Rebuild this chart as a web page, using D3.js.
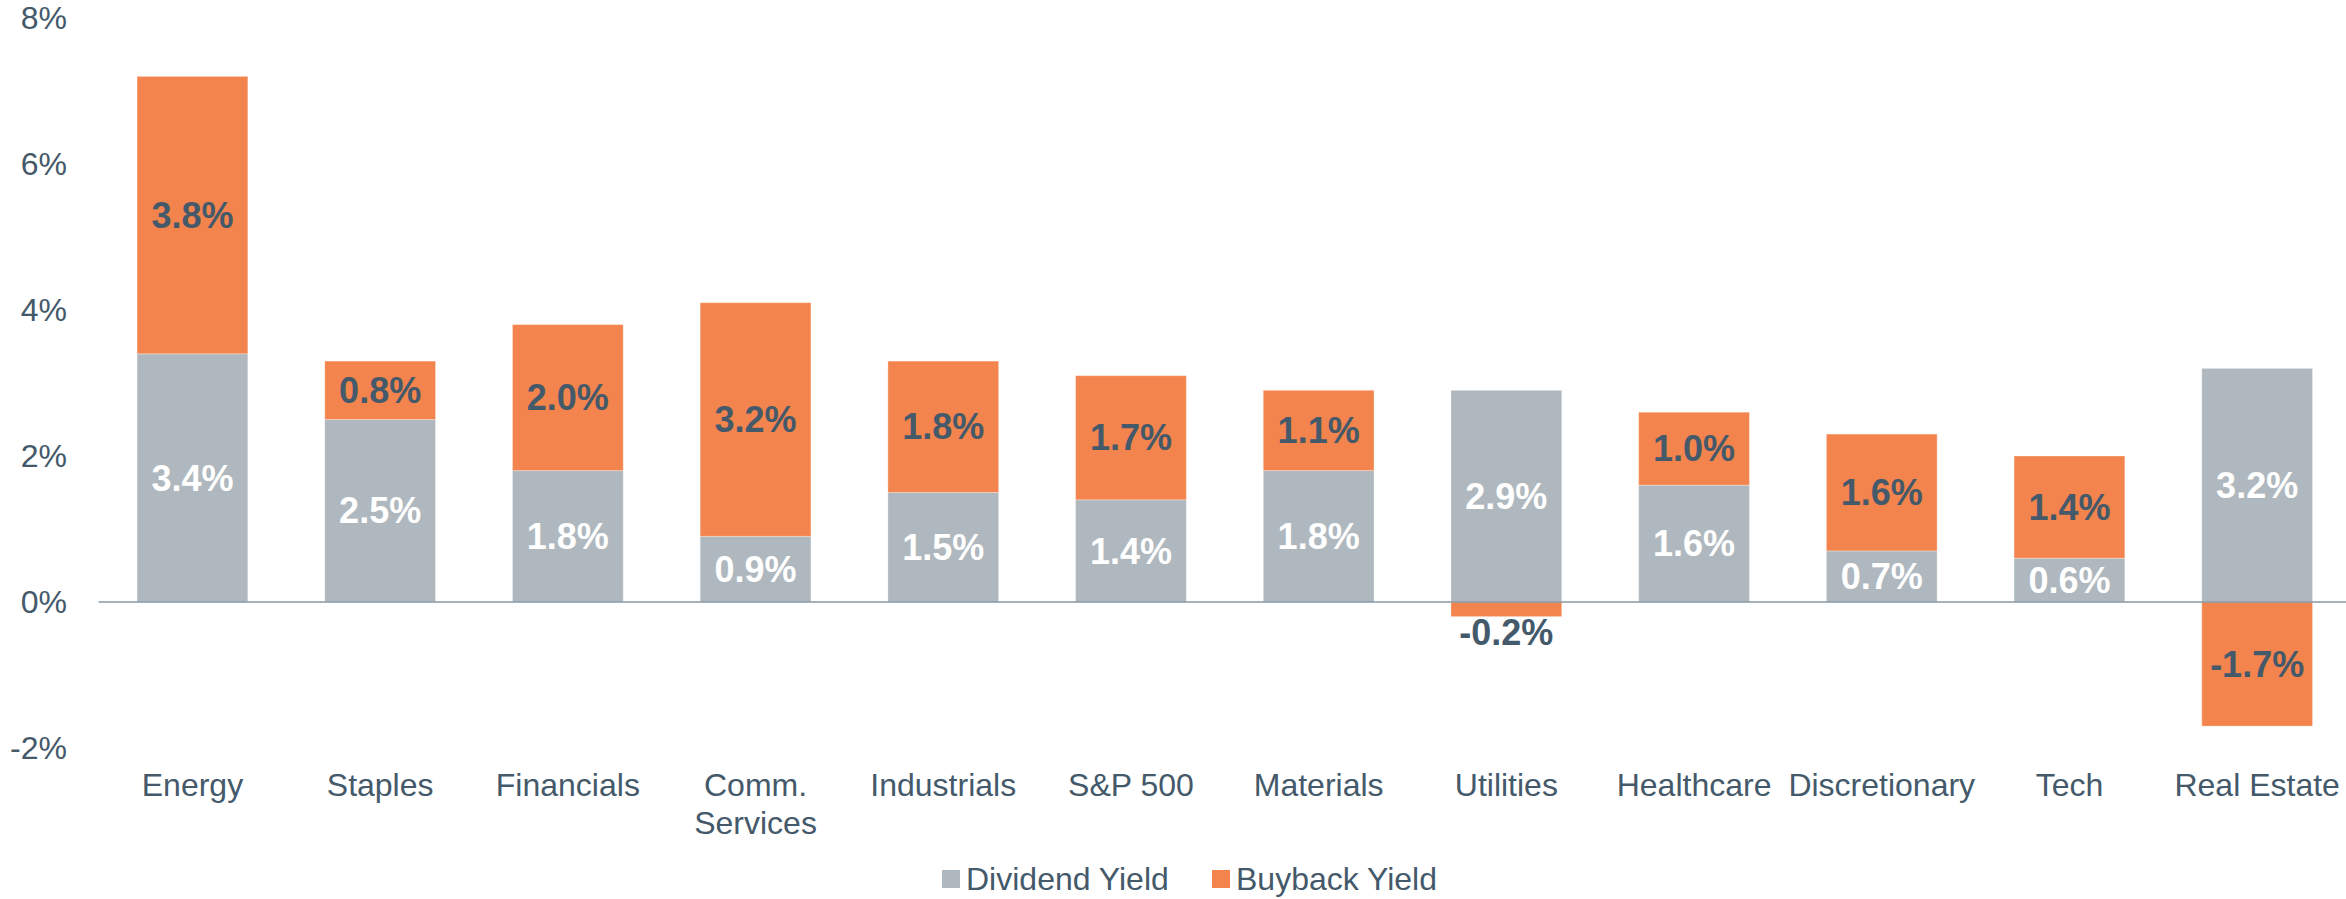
<!DOCTYPE html>
<html>
<head>
<meta charset="utf-8">
<script src="https://cdn.jsdelivr.net/npm/d3@7"></script>
<style>
  body { margin: 0; background: #fff; }
  svg { display: block; font-family: "Liberation Sans", Arial, sans-serif; }
  .tick-label { fill: #44596a; font-size: 32px; }
  .value-label { font-size: 36px; font-weight: bold; }
  .legend-label { fill: #44596a; font-size: 32px; }
</style>
</head>
<body>
<svg id="chart"></svg>
<script>
const categories = ["Energy", "Staples", "Financials", "Comm. Services", "Industrials", "S&P 500",
  "Materials", "Utilities", "Healthcare", "Discretionary", "Tech", "Real Estate"];
const dividendYield = [3.4, 2.5, 1.8, 0.9, 1.5, 1.4, 1.8, 2.9, 1.6, 0.7, 0.6, 3.2];
const buybackYield = [3.8, 0.8, 2.0, 3.2, 1.8, 1.7, 1.1, -0.2, 1.0, 1.6, 1.4, -1.7];
const seriesNames = ["Dividend Yield", "Buyback Yield"];
const yTicks = [-2, 0, 2, 4, 6, 8];

const colors = { dividend: "#afb8be", buyback: "#f4844d" };
const textColor = "#44596a";

const settings = {
  width: 2346,
  height: 899,
  left: 98.6,
  top: 18,
  bottom: 748,
  tickX: 67,
  labelY: 785,
  legendY: 879
};

const svg = d3.select("#chart")
  .attr("width", settings.width)
  .attr("height", settings.height);

const rows = categories.map((name, i) => ({
  name,
  dividend: dividendYield[i],
  buyback: buybackYield[i]
}));

const x = d3.scaleBand()
  .domain(categories)
  .range([settings.left, settings.left + 187.7 * 12])
  .paddingInner(0.41)
  .paddingOuter(0.205);

const y = d3.scaleLinear()
  .domain([d3.min(yTicks), d3.max(yTicks)])
  .range([settings.bottom, settings.top]);

// stacked, negatives go below zero
const stacked = d3.stack()
  .keys(["dividend", "buyback"])
  .offset(d3.stackOffsetDiverging)(rows);

// y axis labels, no line
svg.append("g")
  .selectAll("text")
  .data(yTicks)
  .join("text")
  .attr("class", "tick-label")
  .attr("x", settings.tickX)
  .attr("y", d => y(d))
  .attr("dy", "0.35em")
  .attr("text-anchor", "end")
  .text(d => d + "%");

const layers = svg.append("g")
  .selectAll("g.layer")
  .data(stacked)
  .join("g")
  .attr("class", "layer")
  .attr("fill", d => colors[d.key]);

layers.selectAll("rect")
  .data(d => d)
  .join("rect")
  .attr("x", d => x(d.data.name))
  .attr("width", x.bandwidth())
  .attr("y", d => y(Math.max(d[0], d[1])))
  .attr("height", d => Math.abs(y(d[0]) - y(d[1])))
  .attr("stroke", "rgba(255,255,255,0.3)")
  .attr("stroke-width", 1);

// zero line sits over the bars
svg.append("line")
  .attr("x1", x.range()[0])
  .attr("x2", settings.width)
  .attr("y1", y(0))
  .attr("y2", y(0))
  .attr("stroke", "#8797a4")
  .attr("stroke-width", 1.5);

// value labels
stacked.forEach(layer => {
  svg.append("g")
    .selectAll("text")
    .data(layer)
    .join("text")
    .attr("class", "value-label")
    .attr("fill", layer.key === "dividend" ? "#ffffff" : textColor)
    .attr("text-anchor", "middle")
    .attr("dy", "0.35em")
    .attr("x", d => x(d.data.name) + x.bandwidth() / 2)
    .attr("y", d => {
      const h = Math.abs(y(d[0]) - y(d[1]));
      const v = d.data[layer.key];
      if (h < 40 && v < 0) return y(Math.min(d[0], d[1])) + 16;
      return (y(d[0]) + y(d[1])) / 2;
    })
    .text(d => d.data[layer.key].toFixed(1) + "%");
});

// category labels, wrapped when wider than a band step
const catLabels = svg.append("g")
  .selectAll("text")
  .data(categories)
  .join("text")
  .attr("class", "tick-label")
  .attr("text-anchor", "middle")
  .attr("x", d => x(d) + x.bandwidth() / 2)
  .attr("y", settings.labelY)
  .attr("dy", "0.35em")
  .text(d => d);

catLabels.each(function(d) {
  const el = d3.select(this);
  const maxW = x.step() * 1.05;
  if (this.getComputedTextLength() <= maxW) return;
  const words = d.split(" ");
  el.text(null);
  const cx = el.attr("x");
  let line = [];
  let tspan = el.append("tspan").attr("x", cx).attr("dy", "0.35em");
  words.forEach(w => {
    line.push(w);
    tspan.text(line.join(" "));
    if (tspan.node().getComputedTextLength() > maxW && line.length > 1) {
      line.pop();
      tspan.text(line.join(" "));
      line = [w];
      tspan = el.append("tspan").attr("x", cx).attr("dy", "1.17em").text(w);
    }
  });
});

// legend
const legendItems = [
  { name: seriesNames[0], color: colors.dividend, x: 942 },
  { name: seriesNames[1], color: colors.buyback, x: 1212 }
];

const legend = svg.append("g")
  .selectAll("g")
  .data(legendItems)
  .join("g")
  .attr("transform", d => `translate(${d.x},${settings.legendY})`);

legend.append("rect")
  .attr("x", 0)
  .attr("y", -9)
  .attr("width", 18)
  .attr("height", 18)
  .attr("fill", d => d.color);

legend.append("text")
  .attr("class", "legend-label")
  .attr("x", 24)
  .attr("dy", "0.35em")
  .text(d => d.name);
</script>
</body>
</html>
